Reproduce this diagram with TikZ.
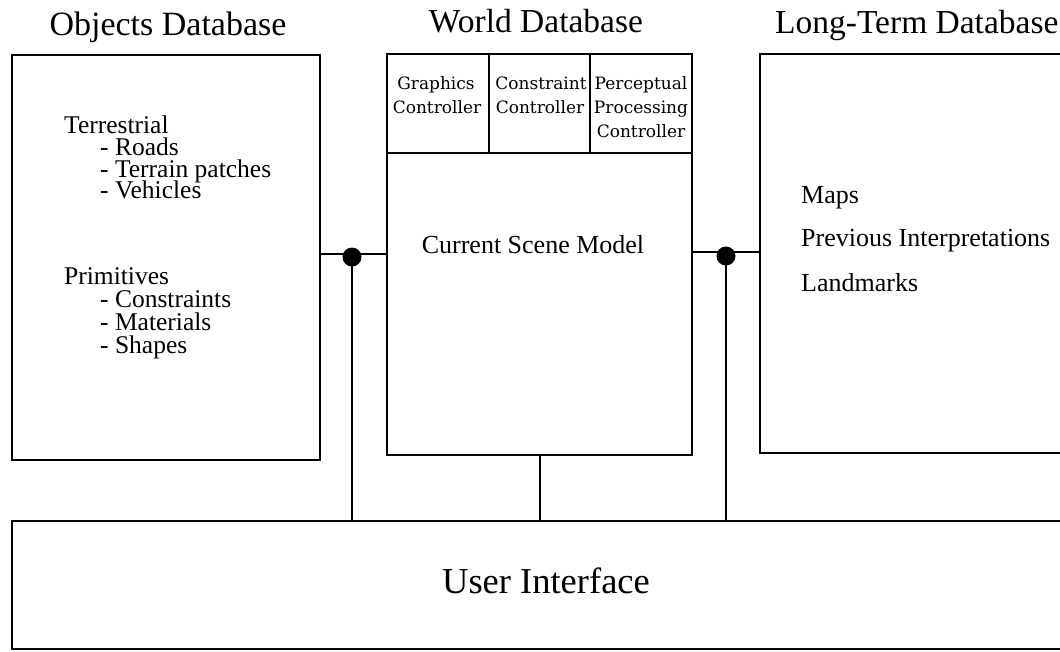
\documentclass[tikz,border=0pt]{standalone}
\usepackage{fontspec}
\setmainfont{Liberation Serif}
\newfontfamily\ctlfont{DejaVu Serif}
\begin{document}
\begin{tikzpicture}[x=1pt,y=-1pt,
  box/.style={draw,line width=1.5pt},
  wire/.style={line width=1.5pt},
  junction/.style={circle,fill=black,inner sep=0pt,minimum size=19pt},
  title/.style={font=\fontsize{33.5}{36}\selectfont,anchor=base,inner sep=0pt},
  body/.style={font=\fontsize{25.5}{28}\selectfont,anchor=base west,inner sep=0pt},
  ctl/.style={font=\ctlfont\fontsize{17}{20}\selectfont,anchor=base,inner sep=0pt}]
\useasboundingbox (0,0) rectangle (1060,651);
\clip (0,0) rectangle (1060,651);
% boxes
\draw[box] (12,55) rectangle (320,460);
\coordinate (objR) at (320,254);
\draw[box] (387,54) rectangle (692,455);
\draw[box] (387,153) -- (692,153);
\draw[box] (489,54) -- (489,153);
\draw[box] (590,54) -- (590,153);
\coordinate (worldL) at (387,254);
\coordinate (worldR) at (692,252);
\coordinate (worldB) at (540,455);
\draw[box] (760,54) rectangle (1080,453);
\coordinate (ltL) at (760,252);
\draw[box] (12,521) rectangle (1080,649);
% titles
\node[title,font=\fontsize{34}{36}\selectfont] (t1) at (168,35) {Objects Database};
\node[title] (t2) at (536,32) {World Database};
\node[title,anchor=base west] (t3) at (775,33) {Long-Term Database};
% controllers
\node[ctl] (c1a) at (436,89) {Graphics};
\node[ctl] (c1b) at (437,113) {Controller};
\node[ctl] (c2a) at (541,89) {Constraint};
\node[ctl] (c2b) at (540,113) {Controller};
\node[ctl] (c3a) at (641,89) {Perceptual};
\node[ctl] (c3b) at (641,113) {Processing};
\node[ctl] (c3c) at (641,137) {Controller};
% objects text
\node[body] (o1) at (64,133) {Terrestrial};
\node[body] (o2) at (100,155) {- Roads};
\node[body] (o3) at (100,177) {- Terrain patches};
\node[body] (o4) at (100,198) {- Vehicles};
\node[body] (o5) at (64,284) {Primitives};
\node[body] (o6) at (100,307) {- Constraints};
\node[body] (o7) at (100,330) {- Materials};
\node[body] (o8) at (100,353) {- Shapes};
% world text
\node[body,font=\fontsize{26}{28}\selectfont,anchor=base] (w1) at (533,253) {Current Scene Model};
% long term text
\node[body,font=\fontsize{26}{28}\selectfont] (l1) at (801,203) {Maps};
\node[body,font=\fontsize{26}{28}\selectfont] (l2) at (801,246) {Previous Interpretations};
\node[body,font=\fontsize{26}{28}\selectfont] (l3) at (801,291) {Landmarks};
% UI
\node[title,font=\fontsize{36.5}{38}\selectfont] (ui) at (546,593) {User Interface};
% junctions
\node[junction] (j1) at (352,257) {};
\node[junction] (j2) at (726,256) {};
\coordinate (uj1) at (352,521);
\coordinate (uj2) at (726,521);
\coordinate (ujm) at (540,521);
\draw[wire] (objR) -- (worldL);
\draw[wire] (worldR) -- (ltL);
\draw[wire] (j1.center) -- (uj1);
\draw[wire] (j2.center) -- (uj2);
\draw[wire] (worldB) -- (ujm);
\end{tikzpicture}
\end{document}
